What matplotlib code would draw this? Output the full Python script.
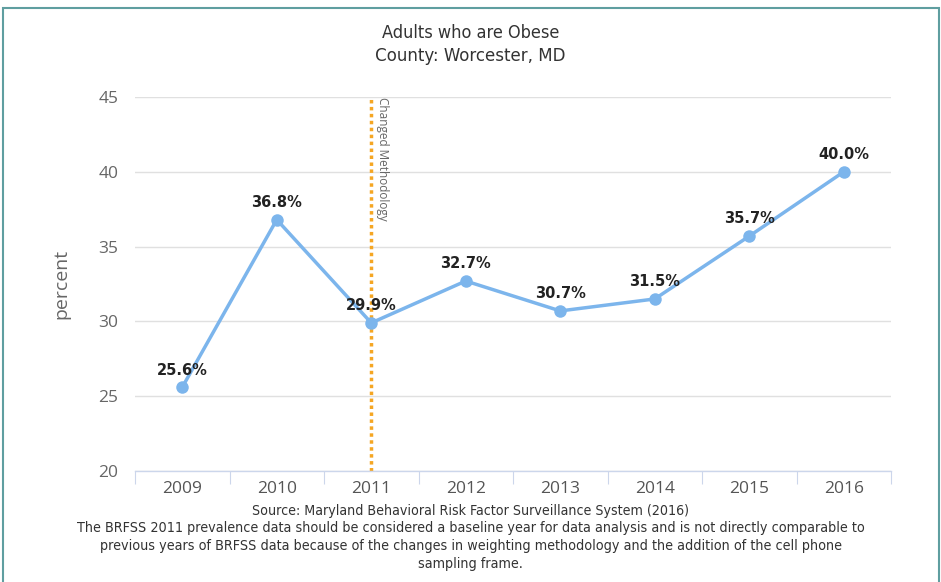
import matplotlib
matplotlib.use("Agg")
import matplotlib.pyplot as plt
from matplotlib.patches import Rectangle

years = ["2009", "2010", "2011", "2012", "2013", "2014", "2015", "2016"]
values = [25.6, 36.8, 29.9, 32.7, 30.7, 31.5, 35.7, 40.0]
yticks = [20, 25, 30, 35, 40, 45]
title_lines = ["Adults who are Obese", "County: Worcester, MD"]
source_text = "Source: Maryland Behavioral Risk Factor Surveillance System (2016)"
note_text = ("The BRFSS 2011 prevalence data should be considered a baseline year for data analysis and is not directly comparable to\n"
             "previous years of BRFSS data because of the changes in weighting methodology and the addition of the cell phone\n"
             "sampling frame.")
method_year_index = 2

W, H = 941, 582
fig = plt.figure(figsize=(W / 100, H / 100), dpi=100)
fig.patch.set_facecolor("white")

narrow = ["DejaVu Sans"]
sans = ["Open Sans", "DejaVu Sans"]

# outer teal frame
fig.patches.append(Rectangle((3 / W, -0.05), (939 - 3) / W, 1 - 8 / H + 0.05,
                             transform=fig.transFigure, fill=False,
                             edgecolor="#5f9ea0", linewidth=1.5))

left, right = 135 / W, 891 / W
bottom, top = 1 - 471 / H, 1 - 97 / H
ax = fig.add_axes([left, bottom, right - left, top - bottom])

x = list(range(len(years)))
ax.set_xlim(-0.5, len(years) - 0.5)
ax.set_ylim(20, 45)

for s in ["top", "right", "left"]:
    ax.spines[s].set_visible(False)
ax.spines["bottom"].set_color("#ccd6eb")
ax.spines["bottom"].set_linewidth(1)

ax.set_yticks(yticks)
ax.yaxis.grid(True, color="#e0e0e0", linewidth=1)
ax.set_axisbelow(True)
ax.tick_params(axis="y", length=0, pad=12, labelsize=12.5, labelcolor="#666666")
for lab in ax.get_yticklabels():
    lab.set_family(sans)

# category ticks between categories
ax.set_xticks([i - 0.5 for i in range(len(years) + 1)])
ax.set_xticklabels([])
ax.set_xticks(x, minor=True)
ax.set_xticklabels(years, minor=True, fontsize=12.5, color="#555555", family=sans)
ax.tick_params(axis="x", which="major", length=9, color="#ccd6eb", direction="out")
ax.tick_params(axis="x", which="minor", length=0, pad=7)

ax.set_ylabel("percent", fontsize=14, color="#666666", family=sans, labelpad=20)

# changed methodology line
ax.axvline(method_year_index, color="#f5a623", linestyle=(0, (1, 1)), linewidth=2.5, zorder=2)
ax.text(method_year_index + 0.05, 45, "Changed Methodology", rotation=-90,
        ha="left", va="top", fontsize=8.5, color="#666666", family=sans, zorder=4)

ax.plot(x, values, color="#7cb5ec", linewidth=2.5, marker="o", markersize=9,
        markeredgewidth=0, zorder=3)

for xi, v in zip(x, values):
    ax.annotate(f"{v:.1f}%", (xi, v), xytext=(0, 7), textcoords="offset points",
                ha="center", va="bottom", fontsize=10.5, fontweight="bold",
                fontstretch="normal", color="#222222", family=["DejaVu Sans"],
                zorder=5)

fig.text(0.5, 1 - 33 / H, title_lines[0], ha="center", va="center",
         fontsize=13, color="#333333", family=narrow, fontstretch="condensed")
fig.text(0.5, 1 - 56 / H, title_lines[1], ha="center", va="center",
         fontsize=13.3, color="#333333", family=narrow, fontstretch="condensed")

fig.text(0.5, 1 - 511 / H, source_text, ha="center", va="center",
         fontsize=10.2, color="#333333", family=narrow, fontstretch="condensed")
fig.text(0.5, 1 - 546 / H, note_text, ha="center", va="center",
         fontsize=10.3, color="#333333", family=narrow, fontstretch="condensed",
         linespacing=1.4)

fig.savefig("out.png", dpi=100, facecolor="white")
